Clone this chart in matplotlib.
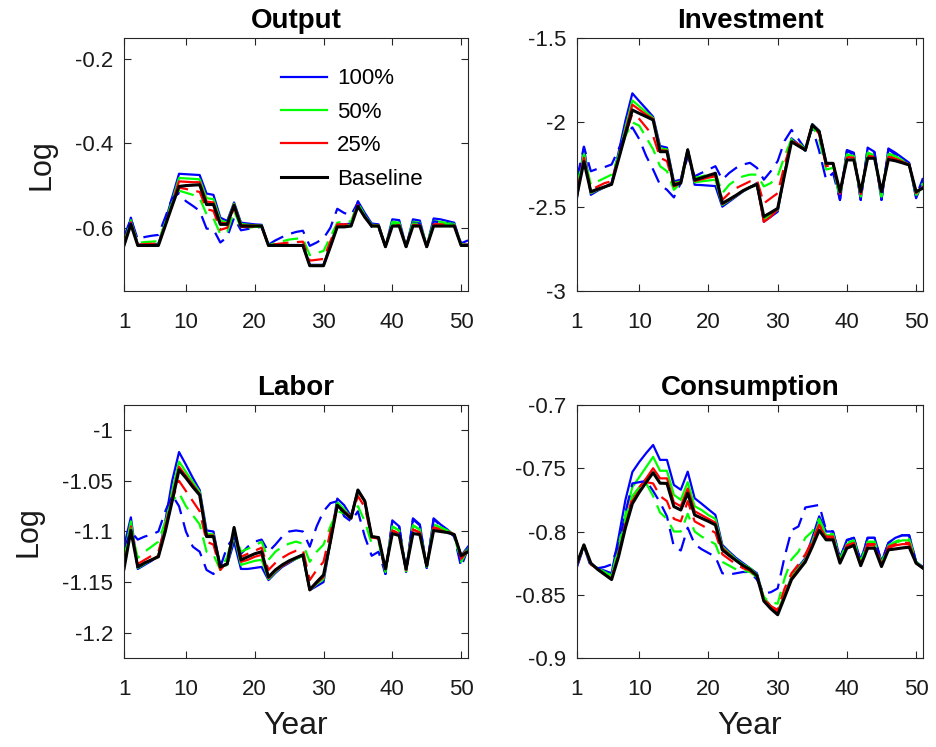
import matplotlib
matplotlib.use("Agg")
import matplotlib.pyplot as plt
import numpy as np

plt.rcParams['font.family'] = ['Liberation Sans', 'DejaVu Sans']
plt.rcParams['axes.unicode_minus'] = False

years = list(range(1, 52))
legend_labels = ["100%", "50%", "25%", "Baseline"]
titles = ["Output", "Investment", "Labor", "Consumption"]

# ---------------- Output ----------------
out_base = [-0.642, -0.592, -0.642, -0.642, -0.642, -0.642, -0.595, -0.548, -0.502, -0.500,
            -0.499, -0.498, -0.545, -0.545, -0.592, -0.592, -0.547, -0.596, -0.596, -0.596,
            -0.596, -0.642, -0.642, -0.642, -0.642, -0.642, -0.642, -0.690, -0.690, -0.690,
            -0.645, -0.598, -0.598, -0.596, -0.549, -0.575, -0.596, -0.596, -0.645, -0.596,
            -0.596, -0.645, -0.596, -0.596, -0.645, -0.596, -0.596, -0.596, -0.596, -0.642, -0.642]
out_s100 = [-0.640, -0.576, -0.640, -0.640, -0.640, -0.638, -0.585, -0.528, -0.472, -0.473,
            -0.474, -0.475, -0.519, -0.522, -0.576, -0.584, -0.540, -0.588, -0.590, -0.592,
            -0.593, -0.642, -0.642, -0.642, -0.641, -0.641, -0.641, -0.688, -0.688, -0.688,
            -0.640, -0.592, -0.592, -0.590, -0.537, -0.565, -0.590, -0.592, -0.645, -0.580,
            -0.582, -0.645, -0.580, -0.583, -0.645, -0.578, -0.580, -0.584, -0.588, -0.640, -0.640]
out_s50 = [-0.641, -0.582, -0.641, -0.641, -0.641, -0.640, -0.590, -0.536, -0.482, -0.483,
           -0.484, -0.485, -0.530, -0.532, -0.582, -0.588, -0.543, -0.591, -0.593, -0.594,
           -0.595, -0.642, -0.642, -0.642, -0.642, -0.642, -0.642, -0.689, -0.689, -0.689,
           -0.642, -0.595, -0.595, -0.593, -0.542, -0.570, -0.593, -0.594, -0.645, -0.586,
           -0.588, -0.645, -0.586, -0.588, -0.645, -0.584, -0.586, -0.589, -0.591, -0.641, -0.641]
out_s25 = [-0.641, -0.587, -0.641, -0.641, -0.641, -0.641, -0.592, -0.541, -0.490, -0.491,
           -0.492, -0.492, -0.538, -0.540, -0.588, -0.590, -0.545, -0.594, -0.595, -0.595,
           -0.596, -0.642, -0.642, -0.642, -0.642, -0.642, -0.642, -0.690, -0.690, -0.690,
           -0.644, -0.597, -0.597, -0.595, -0.546, -0.573, -0.595, -0.595, -0.645, -0.592,
           -0.593, -0.645, -0.592, -0.593, -0.645, -0.592, -0.592, -0.593, -0.594, -0.642, -0.642]
out_d100 = [-0.622, -0.578, -0.628, -0.622, -0.619, -0.617, -0.575, -0.530, -0.518, -0.537,
            -0.548, -0.560, -0.602, -0.604, -0.635, -0.622, -0.576, -0.606, -0.603, -0.600,
            -0.598, -0.640, -0.630, -0.622, -0.615, -0.610, -0.607, -0.643, -0.635, -0.625,
            -0.600, -0.555, -0.565, -0.570, -0.540, -0.570, -0.598, -0.600, -0.645, -0.590,
            -0.592, -0.645, -0.588, -0.590, -0.645, -0.585, -0.587, -0.590, -0.593, -0.637, -0.630]
out_d50 = [-0.635, -0.585, -0.636, -0.634, -0.633, -0.632, -0.588, -0.540, -0.512, -0.517,
           -0.522, -0.530, -0.568, -0.578, -0.615, -0.610, -0.560, -0.600, -0.600, -0.598,
           -0.598, -0.642, -0.636, -0.632, -0.628, -0.626, -0.625, -0.665, -0.660, -0.655,
           -0.622, -0.588, -0.585, -0.585, -0.543, -0.572, -0.596, -0.597, -0.645, -0.590,
           -0.591, -0.645, -0.590, -0.591, -0.645, -0.588, -0.589, -0.591, -0.593, -0.640, -0.637]
out_d25 = [-0.640, -0.588, -0.640, -0.639, -0.638, -0.638, -0.593, -0.545, -0.505, -0.508,
           -0.512, -0.515, -0.556, -0.560, -0.605, -0.600, -0.552, -0.598, -0.598, -0.597,
           -0.597, -0.642, -0.639, -0.637, -0.635, -0.634, -0.633, -0.678, -0.676, -0.674,
           -0.632, -0.592, -0.592, -0.590, -0.546, -0.574, -0.596, -0.596, -0.645, -0.593,
           -0.594, -0.645, -0.593, -0.594, -0.645, -0.592, -0.592, -0.593, -0.595, -0.641, -0.640]

# ---------------- Investment ----------------
inv_base = [-2.431, -2.233, -2.411, -2.396, -2.382, -2.368, -2.220, -2.070, -1.927, -1.947,
            -1.966, -1.986, -2.174, -2.174, -2.372, -2.360, -2.164, -2.342, -2.329, -2.315,
            -2.302, -2.480, -2.457, -2.432, -2.405, -2.385, -2.368, -2.559, -2.535, -2.510,
            -2.310, -2.115, -2.140, -2.164, -2.016, -2.055, -2.243, -2.243, -2.411, -2.223,
            -2.223, -2.411, -2.213, -2.213, -2.411, -2.220, -2.228, -2.240, -2.253, -2.411, -2.390]
inv_s100 = [-2.450, -2.145, -2.430, -2.405, -2.385, -2.360, -2.180, -1.990, -1.828, -1.875,
            -1.920, -1.967, -2.140, -2.150, -2.350, -2.340, -2.160, -2.370, -2.372, -2.375,
            -2.378, -2.500, -2.470, -2.440, -2.410, -2.385, -2.360, -2.589, -2.560, -2.530,
            -2.300, -2.095, -2.130, -2.170, -2.010, -2.050, -2.240, -2.245, -2.460, -2.164,
            -2.180, -2.460, -2.150, -2.175, -2.460, -2.155, -2.180, -2.210, -2.240, -2.450, -2.350]
inv_s50 = [-2.440, -2.180, -2.420, -2.400, -2.385, -2.365, -2.200, -2.030, -1.870, -1.905,
           -1.940, -1.975, -2.155, -2.160, -2.360, -2.350, -2.160, -2.355, -2.350, -2.345,
           -2.340, -2.490, -2.463, -2.436, -2.408, -2.385, -2.364, -2.575, -2.548, -2.520,
           -2.300, -2.105, -2.135, -2.167, -2.013, -2.052, -2.242, -2.244, -2.440, -2.190,
           -2.200, -2.440, -2.180, -2.195, -2.440, -2.185, -2.200, -2.225, -2.248, -2.435, -2.370]
inv_s25 = [-2.435, -2.205, -2.415, -2.398, -2.383, -2.367, -2.210, -2.050, -1.895, -1.925,
           -1.955, -1.980, -2.165, -2.168, -2.366, -2.355, -2.162, -2.348, -2.338, -2.328,
           -2.320, -2.485, -2.460, -2.434, -2.406, -2.385, -2.366, -2.590, -2.560, -2.515,
           -2.300, -2.110, -2.138, -2.165, -2.015, -2.054, -2.243, -2.243, -2.425, -2.205,
           -2.210, -2.425, -2.195, -2.205, -2.425, -2.200, -2.215, -2.233, -2.250, -2.420, -2.380]
inv_d100 = [-2.330, -2.145, -2.290, -2.275, -2.265, -2.250, -2.160, -2.070, -2.030, -2.100,
            -2.200, -2.280, -2.370, -2.400, -2.445, -2.360, -2.200, -2.320, -2.300, -2.280,
            -2.260, -2.340, -2.300, -2.270, -2.250, -2.240, -2.270, -2.340, -2.290, -2.230,
            -2.110, -2.045, -2.100, -2.160, -2.030, -2.170, -2.340, -2.300, -2.460, -2.170,
            -2.190, -2.460, -2.160, -2.180, -2.460, -2.160, -2.190, -2.220, -2.245, -2.440, -2.330]
inv_d50 = [-2.380, -2.190, -2.370, -2.350, -2.330, -2.310, -2.200, -2.080, -2.000, -2.020,
           -2.090, -2.160, -2.260, -2.290, -2.400, -2.360, -2.180, -2.330, -2.320, -2.310,
           -2.300, -2.420, -2.370, -2.340, -2.320, -2.310, -2.310, -2.380, -2.360, -2.320,
           -2.200, -2.100, -2.120, -2.160, -2.020, -2.100, -2.280, -2.270, -2.440, -2.190,
           -2.200, -2.440, -2.180, -2.200, -2.440, -2.190, -2.200, -2.230, -2.250, -2.430, -2.360]
inv_d25 = [-2.410, -2.210, -2.400, -2.380, -2.360, -2.350, -2.210, -2.070, -1.950, -1.980,
           -2.030, -2.080, -2.210, -2.230, -2.380, -2.360, -2.170, -2.340, -2.330, -2.320,
           -2.310, -2.460, -2.420, -2.390, -2.370, -2.350, -2.340, -2.480, -2.450, -2.420,
           -2.250, -2.110, -2.130, -2.165, -2.016, -2.070, -2.260, -2.255, -2.425, -2.210,
           -2.215, -2.425, -2.200, -2.210, -2.425, -2.205, -2.215, -2.235, -2.250, -2.420, -2.380]

# ---------------- Labor ----------------
lab_base = [-1.137, -1.099, -1.135, -1.131, -1.128, -1.125, -1.100, -1.070, -1.039, -1.047,
            -1.056, -1.064, -1.105, -1.105, -1.135, -1.132, -1.096, -1.128, -1.125, -1.122,
            -1.120, -1.145, -1.138, -1.133, -1.129, -1.126, -1.123, -1.1575, -1.150, -1.143,
            -1.110, -1.074, -1.081, -1.087, -1.059, -1.070, -1.105, -1.106, -1.137, -1.102,
            -1.104, -1.137, -1.102, -1.103, -1.134, -1.099, -1.100, -1.101, -1.103, -1.124, -1.120]
lab_s100 = [-1.115, -1.086, -1.137, -1.133, -1.129, -1.124, -1.090, -1.050, -1.0215, -1.034,
            -1.047, -1.059, -1.099, -1.100, -1.135, -1.133, -1.110, -1.137, -1.137, -1.136,
            -1.135, -1.148, -1.141, -1.135, -1.131, -1.127, -1.124, -1.158, -1.154, -1.150,
            -1.110, -1.0675, -1.074, -1.085, -1.059, -1.070, -1.105, -1.107, -1.142, -1.089,
            -1.095, -1.140, -1.087, -1.093, -1.136, -1.087, -1.093, -1.098, -1.104, -1.124, -1.115]
lab_s50 = [-1.125, -1.090, -1.136, -1.132, -1.128, -1.124, -1.093, -1.060, -1.031, -1.041,
           -1.051, -1.061, -1.102, -1.103, -1.135, -1.133, -1.103, -1.133, -1.131, -1.129,
           -1.128, -1.147, -1.140, -1.134, -1.130, -1.127, -1.124, -1.158, -1.152, -1.147,
           -1.110, -1.071, -1.078, -1.086, -1.060, -1.070, -1.105, -1.106, -1.140, -1.095,
           -1.099, -1.139, -1.094, -1.098, -1.135, -1.093, -1.096, -1.099, -1.103, -1.124, -1.117]
lab_s25 = [-1.131, -1.095, -1.135, -1.131, -1.128, -1.124, -1.097, -1.066, -1.036, -1.045,
           -1.054, -1.063, -1.104, -1.104, -1.135, -1.132, -1.100, -1.130, -1.128, -1.125,
           -1.123, -1.146, -1.139, -1.134, -1.130, -1.126, -1.123, -1.158, -1.151, -1.145,
           -1.110, -1.074, -1.080, -1.086, -1.060, -1.070, -1.105, -1.106, -1.139, -1.099,
           -1.102, -1.138, -1.098, -1.101, -1.134, -1.096, -1.098, -1.100, -1.103, -1.124, -1.118]
lab_d100 = [-1.117, -1.100, -1.108, -1.105, -1.103, -1.100, -1.080, -1.064, -1.075, -1.100,
            -1.115, -1.120, -1.138, -1.142, -1.135, -1.115, -1.105, -1.122, -1.115, -1.110,
            -1.108, -1.120, -1.113, -1.105, -1.100, -1.099, -1.100, -1.115, -1.095, -1.080,
            -1.072, -1.070, -1.085, -1.090, -1.080, -1.105, -1.124, -1.120, -1.142, -1.090,
            -1.095, -1.140, -1.088, -1.094, -1.136, -1.088, -1.094, -1.099, -1.105, -1.135, -1.117]
lab_d50 = [-1.127, -1.097, -1.126, -1.120, -1.115, -1.110, -1.090, -1.070, -1.062, -1.075,
           -1.084, -1.093, -1.120, -1.123, -1.138, -1.125, -1.100, -1.120, -1.117, -1.114,
           -1.110, -1.128, -1.120, -1.115, -1.112, -1.110, -1.112, -1.130, -1.120, -1.113,
           -1.095, -1.080, -1.082, -1.085, -1.075, -1.090, -1.112, -1.110, -1.140, -1.095,
           -1.099, -1.139, -1.094, -1.098, -1.135, -1.093, -1.096, -1.099, -1.104, -1.130, -1.118]
lab_d25 = [-1.134, -1.098, -1.132, -1.128, -1.124, -1.120, -1.095, -1.068, -1.050, -1.060,
           -1.070, -1.080, -1.110, -1.113, -1.138, -1.130, -1.098, -1.125, -1.122, -1.119,
           -1.116, -1.138, -1.131, -1.126, -1.122, -1.119, -1.118, -1.148, -1.138, -1.130,
           -1.100, -1.075, -1.080, -1.086, -1.065, -1.076, -1.106, -1.107, -1.139, -1.099,
           -1.102, -1.138, -1.098, -1.101, -1.134, -1.096, -1.098, -1.100, -1.103, -1.127, -1.119]

# ---------------- Consumption ----------------
con_base = [-0.825, -0.8106, -0.825, -0.830, -0.834, -0.838, -0.820, -0.797, -0.778, -0.769,
            -0.761, -0.7535, -0.7618, -0.762, -0.7803, -0.783, -0.7697, -0.7869, -0.7895, -0.792,
            -0.7948, -0.8145, -0.819, -0.823, -0.827, -0.830, -0.835, -0.855, -0.861, -0.8658,
            -0.852, -0.838, -0.831, -0.824, -0.812, -0.799, -0.8066, -0.8066, -0.825, -0.8132,
            -0.811, -0.827, -0.8132, -0.8132, -0.8277, -0.8145, -0.8138, -0.813, -0.8124, -0.825, -0.829]
con_s100 = [-0.827, -0.8106, -0.826, -0.829, -0.831, -0.833, -0.805, -0.775, -0.753, -0.745,
            -0.738, -0.7316, -0.7434, -0.7434, -0.7632, -0.767, -0.7527, -0.7737, -0.778, -0.7825,
            -0.7869, -0.8106, -0.816, -0.821, -0.825, -0.829, -0.833, -0.853, -0.859, -0.864,
            -0.850, -0.836, -0.828, -0.821, -0.805, -0.788, -0.800, -0.800, -0.821, -0.8066,
            -0.805, -0.823, -0.805, -0.805, -0.824, -0.809, -0.805, -0.803, -0.803, -0.824, -0.828]
con_s50 = [-0.826, -0.8106, -0.826, -0.829, -0.832, -0.835, -0.812, -0.786, -0.765, -0.757,
           -0.749, -0.741, -0.752, -0.752, -0.771, -0.775, -0.761, -0.780, -0.783, -0.787,
           -0.790, -0.812, -0.817, -0.822, -0.826, -0.829, -0.834, -0.852, -0.859, -0.863,
           -0.850, -0.836, -0.829, -0.822, -0.808, -0.792, -0.803, -0.803, -0.823, -0.810,
           -0.808, -0.825, -0.809, -0.809, -0.826, -0.812, -0.809, -0.807, -0.807, -0.824, -0.829]
con_s25 = [-0.826, -0.8106, -0.826, -0.830, -0.833, -0.837, -0.817, -0.793, -0.773, -0.765,
           -0.758, -0.750, -0.758, -0.758, -0.777, -0.780, -0.766, -0.784, -0.787, -0.790,
           -0.793, -0.813, -0.818, -0.823, -0.827, -0.830, -0.835, -0.853, -0.860, -0.864,
           -0.851, -0.837, -0.830, -0.823, -0.810, -0.795, -0.805, -0.805, -0.824, -0.812,
           -0.810, -0.826, -0.811, -0.811, -0.827, -0.813, -0.811, -0.810, -0.810, -0.825, -0.829]
con_d100 = [-0.828, -0.812, -0.828, -0.829, -0.828, -0.826, -0.810, -0.785, -0.762, -0.761,
            -0.760, -0.768, -0.777, -0.788, -0.812, -0.815, -0.797, -0.810, -0.814, -0.817,
            -0.820, -0.833, -0.834, -0.833, -0.832, -0.832, -0.838, -0.849, -0.848, -0.845,
            -0.820, -0.799, -0.796, -0.781, -0.780, -0.779, -0.799, -0.800, -0.821, -0.807,
            -0.805, -0.823, -0.805, -0.805, -0.824, -0.809, -0.805, -0.803, -0.803, -0.824, -0.828]
con_d50 = [-0.826, -0.811, -0.826, -0.830, -0.833, -0.836, -0.815, -0.790, -0.772, -0.765,
           -0.762, -0.772, -0.785, -0.790, -0.800, -0.800, -0.786, -0.800, -0.804, -0.807,
           -0.810, -0.824, -0.827, -0.830, -0.831, -0.832, -0.836, -0.852, -0.856, -0.857,
           -0.837, -0.822, -0.816, -0.805, -0.800, -0.790, -0.802, -0.802, -0.822, -0.809,
           -0.807, -0.824, -0.808, -0.808, -0.825, -0.811, -0.808, -0.806, -0.806, -0.824, -0.829]
con_d25 = [-0.826, -0.811, -0.826, -0.830, -0.834, -0.837, -0.818, -0.795, -0.776, -0.768,
           -0.761, -0.762, -0.772, -0.776, -0.790, -0.792, -0.776, -0.792, -0.795, -0.798,
           -0.801, -0.818, -0.822, -0.826, -0.829, -0.831, -0.836, -0.853, -0.859, -0.862,
           -0.845, -0.833, -0.826, -0.818, -0.807, -0.795, -0.804, -0.804, -0.824, -0.811,
           -0.809, -0.826, -0.810, -0.810, -0.826, -0.812, -0.810, -0.809, -0.809, -0.825, -0.829]

panels = [
    (out_base, out_s100, out_s50, out_s25, out_d100, out_d50, out_d25),
    (inv_base, inv_s100, inv_s50, inv_s25, inv_d100, inv_d50, inv_d25),
    (lab_base, lab_s100, lab_s50, lab_s25, lab_d100, lab_d50, lab_d25),
    (con_base, con_s100, con_s50, con_s25, con_d100, con_d50, con_d25),
]
ylims = [(-0.75, -0.15), (-3.0, -1.5), (-1.225, -0.975), (-0.9, -0.7)]
yticks = [[-0.6, -0.4, -0.2], [-3, -2.5, -2, -1.5],
          [-1.2, -1.15, -1.1, -1.05, -1], [-0.9, -0.85, -0.8, -0.75, -0.7]]
ytick_labels = [["-0.6", "-0.4", "-0.2"], ["-3", "-2.5", "-2", "-1.5"],
                ["-1.2", "-1.15", "-1.1", "-1.05", "-1"],
                ["-0.9", "-0.85", "-0.8", "-0.75", "-0.7"]]
xticks = [1, 10, 20, 30, 40, 50]

W, H = 936, 747
fig = plt.figure(figsize=(W / 100, H / 100), dpi=100)
boxes = [(124, 38, 468, 291), (577, 38, 923, 291), (124, 405, 468, 658), (577, 405, 923, 658)]

axcol = '#262626'
txtcol = '#1a1a1a'
dash = (0, (7, 3.8))
for i, (box, data) in enumerate(zip(boxes, panels)):
    l, t, r, b = box
    ax = fig.add_axes([l / W, 1 - b / H, (r - l) / W, (b - t) / H])
    base, s100, s50, s25, d100, d50, d25 = data
    h1, = ax.plot(years, s100, color=(0, 0, 1), lw=1.6)
    h2, = ax.plot(years, s50, color=(0, 1, 0), lw=1.6)
    h3, = ax.plot(years, s25, color=(1, 0, 0), lw=1.6)
    ax.plot(years, d100, color=(0, 0, 1), lw=1.6, ls=dash)
    ax.plot(years, d50, color=(0, 1, 0), lw=1.6, ls=dash)
    ax.plot(years, d25, color=(1, 0, 0), lw=1.6, ls=dash)
    h4, = ax.plot(years, base, color='k', lw=2.2)
    ax.set_xlim(1, 51)
    ax.set_ylim(*ylims[i])
    ax.set_xticks(xticks)
    ax.set_xticklabels([str(v) for v in xticks])
    ax.set_yticks(yticks[i])
    ax.set_yticklabels(ytick_labels[i])
    ax.tick_params(direction='in', top=True, right=True, length=5, width=0.8,
                   labelsize=16, colors=axcol, labelcolor=txtcol)
    ax.tick_params(axis='x', pad=15)
    ax.tick_params(axis='y', pad=8)
    for sp in ax.spines.values():
        sp.set_color(axcol)
        sp.set_linewidth(0.8)
    ax.set_title(titles[i], fontsize=20, fontweight='bold', pad=7, color='k')
    if i in (0, 2):
        ax.set_ylabel("Log", fontsize=22, color=txtcol, labelpad=13)
    if i in (2, 3):
        ax.set_xlabel("Year", fontsize=23, color=txtcol, labelpad=8)
    if i == 0:
        leg = ax.legend([h1, h2, h3, h4], legend_labels, loc='upper left',
                        bbox_to_anchor=(0.455, 0.88), frameon=False, fontsize=16,
                        handlelength=2.1, handletextpad=0.45, labelspacing=0.56,
                        borderpad=0.0, borderaxespad=0.0)

fig.savefig("out.png", dpi=100)
